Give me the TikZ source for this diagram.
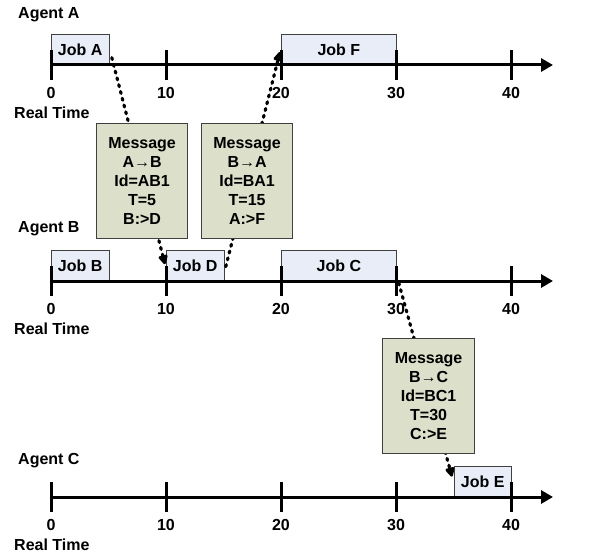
\documentclass[tikz,border=0pt]{standalone}
\usepackage{fontspec}
\setmainfont{Liberation Sans}
\usetikzlibrary{arrows.meta}
\definecolor{jobfill}{HTML}{E8EDF7}
\definecolor{msgfill}{HTML}{DCDFC9}
\definecolor{boxline}{HTML}{404040}
\begin{document}
\begin{tikzpicture}[x=1pt,y=1pt,
  lbl/.style={font=\bfseries\fontsize{16}{19}\selectfont, inner sep=0pt},
  jobbox/.style={draw=boxline, line width=0.8pt, fill=jobfill, minimum height=30pt,
    inner sep=0pt, anchor=south west, font=\bfseries\fontsize{16}{19}\selectfont},
  msgbox/.style={draw=boxline, line width=1.2pt, fill=msgfill, minimum width=91pt,
    minimum height=115pt, inner sep=0pt, align=center, anchor=north west,
    font=\bfseries\fontsize{16}{19}\selectfont},
  axisline/.style={line width=3pt, -{Triangle[length=12pt,width=13pt]}},
  tickline/.style={line width=3pt},
  msgline/.style={line width=3.2pt, line cap=round, dash pattern=on 2pt off 5pt,
    -{Triangle[length=11pt,width=10pt,round]}}
]
\useasboundingbox (0,0) rectangle (592,558);

% job boxes
\node[jobbox, minimum width=57.5pt] (jobA) at (51,493) {Job A};
\node[jobbox, minimum width=115pt] (jobF) at (281,493) {Job F};
\node[jobbox, minimum width=57.5pt] (jobB) at (51,277) {Job B};
\node[jobbox, minimum width=57.5pt] (jobD) at (166,277) {Job D};
\node[jobbox, minimum width=115pt] (jobC) at (281,277) {Job C};
\node[jobbox, minimum width=57.5pt] (jobE) at (453.5,61) {Job E};

% timelines
\foreach \ax/\yy/\ag/\agy in {A/493/Agent A/543, B/277/Agent B/329, C/61/Agent C/97}{
  \coordinate (\ax start) at (51,\yy);
  \coordinate (\ax end) at (553,\yy);
  \draw[axisline] (\ax start) -- (\ax end);
  \foreach \i/\t in {0/0,1/10,2/20,3/30,4/40}{
    \draw[tickline] (51+115*\i,\yy+15) -- (51+115*\i,\yy-15);
    \node[lbl] (\ax tick\i) at (51+115*\i,\yy-28) {\t};
  }
  \node[lbl, anchor=west] (\ax rt) at (14,\yy-48) {Real Time};
  \node[lbl, anchor=west] (\ax ag) at (18,\agy) {\ag};
}

% message connectors
\draw[msgline] ([shift={(2.5pt,-8pt)}]jobA.east) -- ([shift={(-1pt,-14pt)}]jobD.north west);
\draw[msgline] ([shift={(1.5pt,-1pt)}]jobD.east) -- ([shift={(-1pt,13pt)}]jobF.south west);
\draw[msgline] ([shift={(2pt,-2pt)}]jobC.south east) -- ([shift={(-1.5pt,5pt)}]jobE.west);

% message boxes
\node[msgbox] (msg1) at (96,435) {Message\\A→B\\Id=AB1\\T=5\\B:>D};
\node[msgbox] (msg2) at (201,435) {Message\\B→A\\Id=BA1\\T=15\\A:>F};
\node[msgbox, minimum width=92pt] (msg3) at (382,220) {Message\\B→C\\Id=BC1\\T=30\\C:>E};
\end{tikzpicture}
\end{document}
